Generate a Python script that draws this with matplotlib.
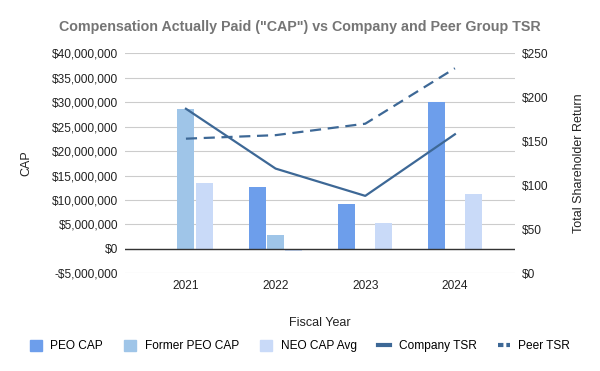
import matplotlib.pyplot as plt
from matplotlib.lines import Line2D
from matplotlib.patches import Patch
from matplotlib.ticker import FuncFormatter
import numpy as np

plt.rcParams['font.family'] = ['Liberation Sans', 'DejaVu Sans']

years = ['2021', '2022', '2023', '2024']
peo_cap = [0, 12650000, 9200000, 30000000]
former_peo_cap = [28600000, 2900000, 0, 0]
neo_cap_avg = [13500000, -500000, 5300000, 11300000]
company_tsr = [187, 119, 88, 158]
peer_tsr = [153, 157, 170, 233]

c_peo = '#6d9eeb'
c_former = '#9fc5e8'
c_neo = '#c9daf8'
c_line = '#3d6896'

fig = plt.figure(figsize=(6, 3.71), dpi=100)
ax = fig.add_axes([0.2083, 0.2633, 0.65, 0.593])
ax2 = ax.twinx()

x = np.arange(len(years))
w = 0.19
off = 0.205
ax.bar(x - off, peo_cap, w, color=c_peo, zorder=3)
ax.bar(x, former_peo_cap, w, color=c_former, zorder=3)
ax.bar(x + off, neo_cap_avg, w, color=c_neo, zorder=3)

ax.set_ylim(-5000000, 40000000)
ax.set_yticks(np.arange(-5000000, 40000001, 5000000))
ax.yaxis.set_major_formatter(FuncFormatter(
    lambda v, p: ('-$' if v < 0 else '$') + f'{abs(int(v)):,}'))
ax.grid(axis='y', color='#cccccc', linewidth=0.8, zorder=0)
ax.axhline(0, color='#333333', linewidth=1.0, zorder=4)
ax.set_xlim(-0.68, 3.67)
ax.set_xticks(x)
ax.set_xticklabels(years)

ax2.plot(x, company_tsr, color=c_line, linewidth=1.6, zorder=5)
ax2.plot(x, peer_tsr, color=c_line, linewidth=1.6, linestyle=(0, (5, 3)), zorder=5)
ax2.set_ylim(0, 250)
ax2.set_yticks(np.arange(0, 251, 50))
ax2.yaxis.set_major_formatter(FuncFormatter(lambda v, p: f'${int(v)}'))

for a in (ax, ax2):
    for s in a.spines.values():
        s.set_visible(False)
    a.tick_params(length=0, labelsize=8.6, colors='#222222', pad=5)

ax.set_ylabel('CAP', fontsize=9, color='#222222', labelpad=14)
ax2.set_ylabel('Total Shareholder Return', fontsize=9, color='#222222', labelpad=18)
ax.set_xlabel('Fiscal Year', fontsize=9, color='#222222', labelpad=18)

fig.suptitle('Compensation Actually Paid ("CAP") vs Company and Peer Group TSR',
             x=0.5, y=0.945, fontsize=10.3, fontweight='bold', color='#757575')

handles = [
    Patch(color=c_peo, label='PEO CAP'),
    Patch(color=c_former, label='Former PEO CAP'),
    Patch(color=c_neo, label='NEO CAP Avg'),
    Line2D([], [], color=c_line, linewidth=3, label='Company TSR'),
    Line2D([], [], color=c_line, linewidth=3, linestyle=(0, (1.3, 0.7)), label='Peer TSR'),
]
fig.legend(handles=handles, loc='center', bbox_to_anchor=(0.5, 0.067), ncol=5,
           frameon=False, fontsize=8.6, handlelength=1.0, handleheight=1.0,
           columnspacing=1.8, handletextpad=0.7)

fig.savefig('out.png', dpi=100)
